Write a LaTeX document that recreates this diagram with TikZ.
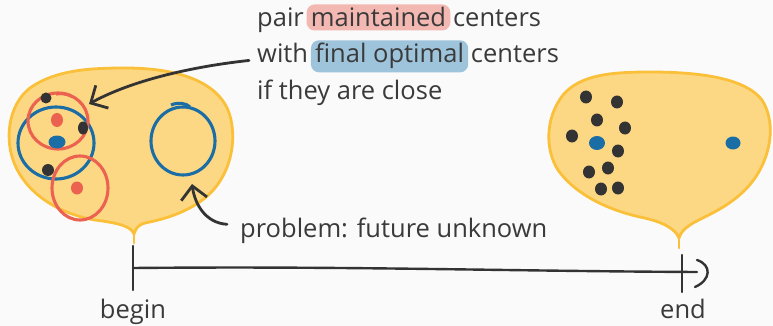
\documentclass[tikz,border=0pt]{standalone}
\usepackage{fontspec}
\setmainfont{Open Sans}
\usetikzlibrary{arrows.meta,fit,backgrounds}
\definecolor{bgc}{HTML}{FAFAFA}
\definecolor{blobfill}{HTML}{FDD884}
\definecolor{blobline}{HTML}{FBC03A}
\definecolor{redc}{HTML}{EC6250}
\definecolor{bluec}{HTML}{1B6DA6}
\definecolor{darkc}{HTML}{333333}
\definecolor{txtc}{HTML}{3A3A3A}
\definecolor{pinkhl}{HTML}{F4B8B2}
\definecolor{bluehl}{HTML}{9EC4DC}
\tikzset{
  txt/.style={inner sep=0pt, text=txtc, font=\fontsize{25.5}{30}\selectfont, anchor=base west},
  blob/.style={fill=blobfill, draw=blobline, line width=2.8pt, line join=round},
  stemline/.style={draw=blobline, line width=2.8pt, line cap=round},
  redring/.style={draw=redc, line width=3.1pt},
  bluering/.style={draw=bluec, line width=3.1pt},
  blackdot/.style={fill=darkc},
  reddot/.style={fill=redc},
  bluedot/.style={fill=bluec},
  pointer/.style={draw=darkc, line width=2.8pt, line cap=round, line join=round,
    -{Straight Barb[length=13pt, width=26pt, line width=2.8pt]}},
  timeline/.style={draw=darkc, line width=2.4pt, line cap=round},
  hlbox/.style={inner xsep=4pt, inner ysep=3pt, rounded corners=8pt}
}
\begin{document}
\begin{tikzpicture}[x=1pt,y=-1pt]
\begin{scope}[on background layer]
\fill[bgc] (0,0) rectangle (773,326);
\end{scope}
\useasboundingbox (0,0) rectangle (773,326);

% left blob
\path[blob] (134,234) .. controls (131,226) and (118,223) .. (95,220)
  .. controls (60,214) and (28,195) .. (15,165)
  .. controls (4,140) and (8,105) .. (30,88)
  .. controls (55,70) and (90,68) .. (125,68)
  .. controls (175,68) and (215,80) .. (228,110)
  .. controls (238,135) and (233,175) .. (205,198)
  .. controls (185,214) and (160,220) .. (145,223)
  .. controls (138,225) and (136,228) .. (134,234) -- cycle;
\draw[stemline] (134,233) -- (134,243);

% right blob
\path[blob] (679,238) .. controls (676,230) and (665,222) .. (640,217)
  .. controls (600,208) and (572,190) .. (558,170)
  .. controls (545,150) and (545,118) .. (563,95)
  .. controls (580,75) and (610,72) .. (650,72)
  .. controls (700,72) and (745,78) .. (762,100)
  .. controls (778,125) and (770,165) .. (745,190)
  .. controls (725,210) and (700,218) .. (690,225)
  .. controls (684,229) and (681,232) .. (679,238) -- cycle;
\draw[stemline] (679,237) -- (679,248);

% rings in left blob
\draw[bluering] (56,143) ellipse [x radius=38, y radius=36];
\draw[bluering] (183,141) ellipse [x radius=32, y radius=34];
\draw[bluering] (171,105) .. controls (178,102) and (186,103) .. (190,107);
\draw[redring] (58,121) ellipse [x radius=30, y radius=28];
\draw[redring] (56,94) .. controls (62,93) and (68,94) .. (73,97);
\draw[redring] (80,188) ellipse [x radius=28, y radius=32];

% dots in left blob
\fill[blackdot] (46,98) ellipse [x radius=5.5, y radius=5.5];
\fill[blackdot] (83,128) ellipse [x radius=5, y radius=6.5];
\fill[blackdot] (48,170) ellipse [x radius=6, y radius=6];
\fill[reddot] (57,120) ellipse [x radius=6, y radius=7];
\fill[reddot] (77,188) ellipse [x radius=6, y radius=6.5];
\fill[bluedot] (57,142) ellipse [x radius=8.5, y radius=6.5];

% dots in right blob
\foreach \p in {(586,97),(617,102),(597,120),(625,128),(572,136),(618,151),(589,172),(608,168),(601,189),(618,188)}
  \fill[blackdot] \p ellipse [x radius=6, y radius=6.5];
\fill[bluedot] (597,143) ellipse [x radius=8, y radius=7];
\fill[bluedot] (733,143) ellipse [x radius=7.5, y radius=6.5];

% text top
\node[txt] (a1) at (257,27) {pair};
\node[txt] (a2) at ([xshift=6.6pt]a1.base east) {maintained};
\node[txt] (a3) at ([xshift=6.6pt]a2.base east) {centers};
\node[txt] (b1) at (257,63) {with};
\node[txt] (b2) at ([xshift=6.6pt]b1.base east) {final optimal};
\node[txt] (b3) at ([xshift=6.6pt]b2.base east) {centers};
\node[txt] (c1) at (257,100) {if they are close};
\node[txt] (d1) at (240,237) {problem: future unknown};

\begin{scope}[on background layer]
\node[hlbox, fill=pinkhl, fit=(a2)] {};
\node[hlbox, fill=bluehl, fit=(b2)] {};
\end{scope}

% arrows
\coordinate (ringtip) at (89,104);
\coordinate (ringtip2) at (192,184);
\draw[pointer] ([xshift=-8pt,yshift=-7pt]b1.west) .. controls (180,68) and (125,84) .. (ringtip);
\draw[pointer] ([xshift=-13pt,yshift=6pt]d1.west) .. controls (206,223) and (195,205) .. (ringtip2);

% timeline
\coordinate (tbeg) at (133,268);
\coordinate (tend) at (697,272);
\draw[timeline] (133,246) -- (133,290);
\draw[timeline] (682,255) -- (682,292);
\draw[timeline] (tbeg) .. controls (350,266) and (500,271) .. (tend);
\draw[timeline] (697,260) .. controls (712,265) and (711,280) .. (695,287);
\node[txt, anchor=base] (lb) at (133,318) {begin};
\node[txt, anchor=base] (le) at (683,318) {end};
\end{tikzpicture}
\end{document}
